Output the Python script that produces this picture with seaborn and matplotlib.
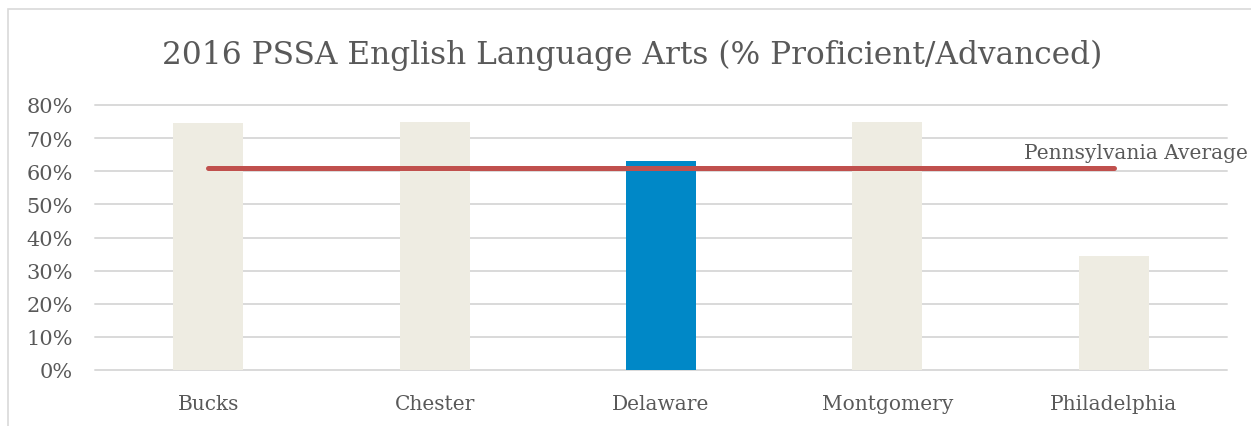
import matplotlib
matplotlib.use('Agg')
import matplotlib.pyplot as plt
from matplotlib.patches import Rectangle
from matplotlib.ticker import PercentFormatter
import seaborn as sns

# --- data ---
counties = ['Bucks', 'Chester', 'Delaware', 'Montgomery', 'Philadelphia']
pct_proficient = [74.6, 74.9, 63.1, 75.0, 34.5]
pa_average = 61.0
highlight = 'Delaware'

TITLE = '2016 PSSA English Language Arts (% Proficient/Advanced)'
TEXT_COLOR = '#595959'
GRID_COLOR = '#D9D9D9'
BAR_COLOR = '#EEECE2'
HIGHLIGHT_COLOR = '#0088C7'
LINE_COLOR = '#C0504D'

sns.set_style('white')
plt.rcParams['font.family'] = ['DejaVu Serif']

fig = plt.figure(figsize=(12.51, 4.27), dpi=100)
ax = fig.add_axes([95 / 1251, 1 - 371 / 427, (1227 - 95) / 1251, (371 - 106) / 427])

# outer chart frame (cut off at right/bottom like the screenshot)
fig.patches.append(Rectangle((8 / 1251, -0.1), 1.2, 1 - 10 / 427 + 0.1,
                             transform=fig.transFigure, fill=False,
                             edgecolor=GRID_COLOR, linewidth=1.2))

palette = {c: (HIGHLIGHT_COLOR if c == highlight else BAR_COLOR) for c in counties}
sns.barplot(x=counties, y=pct_proficient, hue=counties, palette=palette,
            legend=False, width=0.31, saturation=1, linewidth=0, ax=ax, zorder=2)

sns.lineplot(x=counties, y=[pa_average] * len(counties), color=LINE_COLOR,
             linewidth=3.6, ax=ax, zorder=3, solid_capstyle='round')
ax.annotate('Pennsylvania Average', xy=(len(counties) - 1, pa_average),
            xytext=(22, 15), textcoords='offset pixels', ha='center', va='center',
            fontsize=14.5, color=TEXT_COLOR, annotation_clip=False)

ax.set_ylim(0, 80)
ax.set_xlim(-0.5, len(counties) - 0.5)
ax.set_yticks(range(0, 81, 10))
ax.yaxis.set_major_formatter(PercentFormatter(xmax=100, decimals=0))
ax.grid(axis='y', color=GRID_COLOR, linewidth=1.4, zorder=0)
for gl in ax.get_ygridlines():
    gl.set_clip_on(False)
ax.set_axisbelow(True)
for s in ax.spines.values():
    s.set_visible(False)
ax.tick_params(axis='y', length=0, pad=16, labelsize=15, labelcolor=TEXT_COLOR)
ax.tick_params(axis='x', length=0, pad=17, labelsize=14.5, labelcolor=TEXT_COLOR)
ax.set_xlabel('')
ax.set_ylabel('')

fig.text(632 / 1251, 1 - 55 / 427, TITLE, ha='center', va='center',
         fontsize=22.5, color=TEXT_COLOR)

fig.savefig('out.png', dpi=100)
